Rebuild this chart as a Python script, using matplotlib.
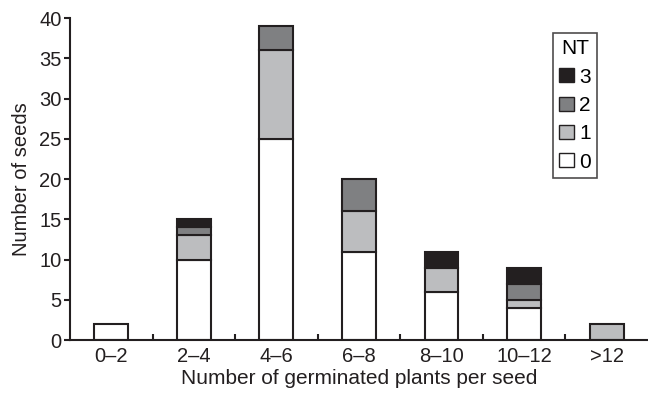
import numpy as np
import matplotlib
matplotlib.use("Agg")
import matplotlib.pyplot as plt
from matplotlib.patches import Patch

categories = ["0\u20132", "2\u20134", "4\u20136", "6\u20138", "8\u201310", "10\u201312", ">12"]
nt0 = [2, 10, 25, 11, 6, 4, 0]
nt1 = [0, 3, 11, 5, 3, 1, 2]
nt2 = [0, 1, 3, 4, 0, 2, 0]
nt3 = [0, 1, 0, 0, 2, 2, 0]

edge = "#231f20"
colors = ["#ffffff", "#bcbdbf", "#7f8082", "#231f20"]

plt.rcParams["font.family"] = ["Liberation Sans", "DejaVu Sans"]

fig = plt.figure(figsize=(6.48, 3.95), dpi=100)
ax = fig.add_axes([0.108, 0.139, 0.892, 0.815])

x = np.arange(len(categories))
bottom = np.zeros(len(categories))
for vals, c in zip([nt0, nt1, nt2, nt3], colors):
    vals = np.array(vals, dtype=float)
    mask = vals > 0
    ax.bar(x[mask], vals[mask], width=0.41, bottom=bottom[mask], color=c,
           edgecolor=edge, linewidth=1.5, zorder=2)
    bottom += vals

ax.set_xlim(-0.5, 6.5)
ax.set_ylim(0, 40)
ax.set_yticks(np.arange(0, 41, 5))
ax.set_xticks(x)
ax.set_xticklabels(categories)
ax.set_xticks(np.arange(0.5, 6.0, 1.0), minor=True)
ax.tick_params(axis="x", which="major", length=0, labelsize=14.5, pad=5, colors=edge)
ax.tick_params(axis="x", which="minor", direction="in", length=4, width=1.5, color=edge)
ax.tick_params(axis="y", direction="out", length=4, width=1.5, labelsize=14.5, pad=2, colors=edge)

for s in ["top", "right"]:
    ax.spines[s].set_visible(False)
for s in ["left", "bottom"]:
    ax.spines[s].set_linewidth(1.5)
    ax.spines[s].set_color(edge)

ax.set_xlabel("Number of germinated plants per seed", fontsize=15, color=edge, labelpad=2)
ax.set_ylabel("Number of seeds", fontsize=14.5, color=edge, labelpad=6)

handles = [Patch(facecolor=c, edgecolor=edge, linewidth=1.0) for c in colors[::-1]]
labels = ["3", "2", "1", "0"]
leg = ax.legend(handles, labels, title="NT", loc="upper left",
                fontsize=15, title_fontsize=15,
                frameon=True, fancybox=False, handlelength=0.7, handleheight=0.65,
                handletextpad=0.25, borderpad=0.3, labelspacing=0.45,
                borderaxespad=0)
leg.get_frame().set_edgecolor(edge)
leg.get_frame().set_linewidth(1.2)
leg.set_bbox_to_anchor((553 / 648, (395 - 33) / 395), transform=fig.transFigure)

fig.savefig("out.png", dpi=100)
